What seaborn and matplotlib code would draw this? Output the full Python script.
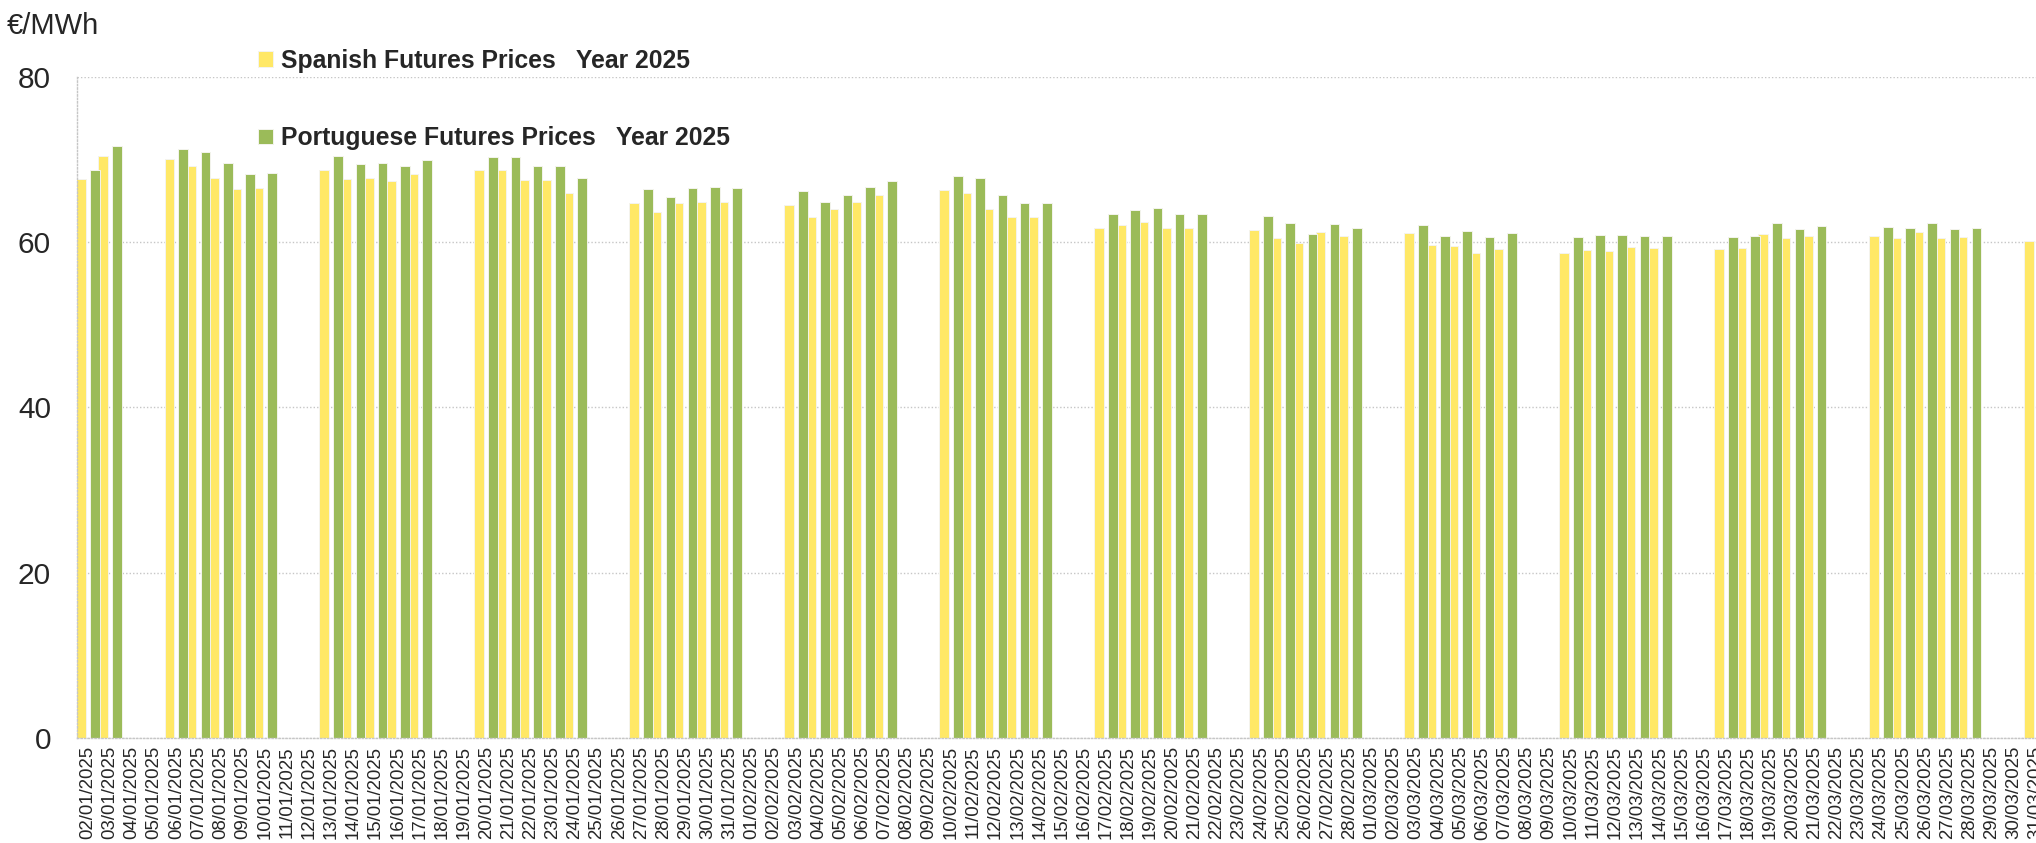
import numpy as np
import pandas as pd
import matplotlib
matplotlib.use("Agg")
import matplotlib.pyplot as plt
import seaborn as sns

# weekday settlement prices, EUR/MWh
spanish_prices = [
    67.7, 70.5,                         # 02-03 Jan
    70.1, 69.2, 67.8, 66.5, 66.6,       # 06-10 Jan
    68.7, 67.7, 67.8, 67.4, 68.2,       # 13-17 Jan
    68.7, 68.7, 67.5, 67.5, 66.0,       # 20-24 Jan
    64.7, 63.7, 64.8, 64.9, 64.9,       # 27-31 Jan
    64.5, 63.1, 64.0, 64.9, 65.7,       # 03-07 Feb
    66.3, 66.0, 64.0, 63.0, 63.0,       # 10-14 Feb
    61.7, 62.1, 62.5, 61.7, 61.7,       # 17-21 Feb
    61.5, 60.5, 59.9, 61.2, 60.7,       # 24-28 Feb
    61.1, 59.7, 59.5, 58.7, 59.2,       # 03-07 Mar
    58.7, 59.0, 58.9, 59.4, 59.3,       # 10-14 Mar
    59.2, 59.3, 61.0, 60.5, 60.8,       # 17-21 Mar
    60.7, 60.5, 61.2, 60.5, 60.6,       # 24-28 Mar
    60.1,                               # 31 Mar
]
portuguese_prices = [
    68.8, 71.7,
    71.3, 70.9, 69.6, 68.2, 68.4,
    70.5, 69.5, 69.6, 69.2, 69.9,
    70.3, 70.3, 69.2, 69.2, 67.8,
    66.5, 65.5, 66.6, 66.7, 66.6,
    66.2, 64.9, 65.7, 66.7, 67.4,
    68.0, 67.8, 65.7, 64.8, 64.7,
    63.4, 63.9, 64.2, 63.4, 63.4,
    63.2, 62.3, 61.0, 62.2, 61.7,
    62.1, 60.7, 61.4, 60.6, 61.1,
    60.6, 60.9, 60.9, 60.7, 60.7,
    60.6, 60.7, 62.3, 61.6, 62.0,
    61.9, 61.7, 62.3, 61.6, 61.7,
]
series_names = ["Spanish Futures Prices   Year 2025",
                "Portuguese Futures Prices   Year 2025"]

days = pd.date_range("2025-01-02", "2025-03-31", freq="D")
day_labels = list(days.strftime("%d/%m/%Y"))
trading = pd.bdate_range("2025-01-02", "2025-03-31")

es = pd.Series(spanish_prices, index=trading[:len(spanish_prices)]).reindex(days)
pt = pd.Series(portuguese_prices, index=trading[:len(portuguese_prices)]).reindex(days)

df = pd.DataFrame({"day": day_labels,
                   series_names[0]: es.values,
                   series_names[1]: pt.values})
df = df.melt(id_vars="day", var_name="series", value_name="price").dropna()

sns.set_style("white")
plt.rcParams["font.family"] = ["Liberation Sans", "DejaVu Sans"]

fig = plt.figure(figsize=(20.36, 8.43), dpi=100)
ax = fig.add_axes([0.0377, 0.1249, 0.9623, 0.7837])

sns.barplot(data=df, x="day", y="price", hue="series",
            order=day_labels, hue_order=series_names,
            palette=["#FFE866", "#9BBB59"], saturation=1,
            width=1.26, gap=0.3, errorbar=None,
            edgecolor="#f4f4ee", linewidth=0.7,
            legend=False, ax=ax)

ax.set_xlim(-0.5, 88.0)
ax.set_ylim(0, 80)
ax.set_yticks([0, 20, 40, 60, 80])
ax.set_xlabel("")
ax.set_ylabel("")

grid_kw = dict(color="#c6c6c6", linestyle=(0, (1, 1.5)), linewidth=1.0)
ax.yaxis.grid(True, **grid_kw)
ax.set_axisbelow(True)
for side in ["top", "right"]:
    ax.spines[side].set_visible(False)
for side in ["left", "bottom"]:
    ax.spines[side].set_color("#c6c6c6")
    ax.spines[side].set_linestyle((0, (1, 1.5)))
    ax.spines[side].set_linewidth(1.0)

ax.set_xticks(np.arange(len(day_labels)) - 0.5, minor=True)
ax.tick_params(axis="x", which="major", length=0, pad=6,
               labelrotation=90, labelsize=13.4)
ax.tick_params(axis="x", which="minor", length=4, color="#c6c6c6", width=1)
ax.tick_params(axis="y", length=6.5, color="#c6c6c6", pad=12, labelsize=21.5)

fig.text(0.0032, 0.969, "€/MWh", fontsize=21, va="center", ha="left")

ax.legend(ax.containers, series_names, loc="upper left",
          bbox_to_anchor=(258 / 2036, 1 - 49 / 843),
          bbox_transform=fig.transFigure, frameon=False,
          prop={"weight": "bold", "size": 17.8},
          handlelength=0.6, handleheight=0.6, handletextpad=0.35,
          labelspacing=2.15, borderpad=0, borderaxespad=0)

fig.savefig("out.png", dpi=100)
